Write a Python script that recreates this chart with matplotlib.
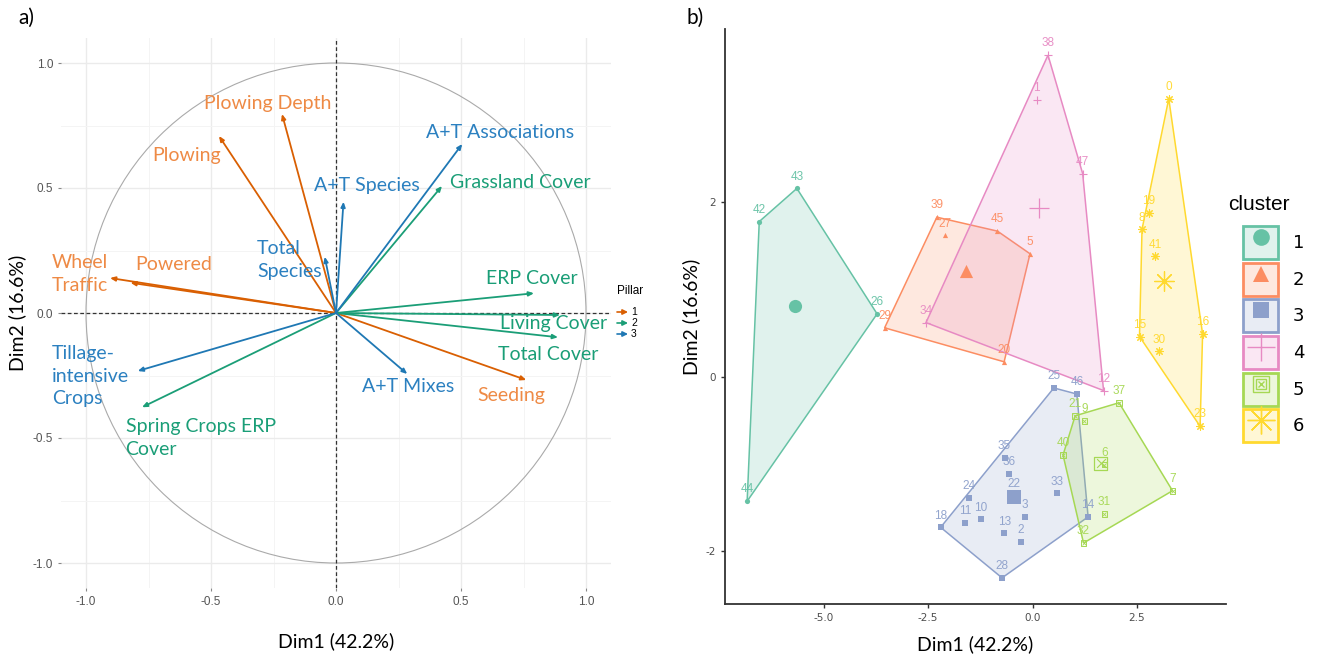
import matplotlib.pyplot as plt
import numpy as np
from matplotlib.patches import Circle, Polygon, Patch
from matplotlib.lines import Line2D
from matplotlib.legend_handler import HandlerTuple
from matplotlib.colors import to_rgba

plt.rcParams['axes.unicode_minus'] = False

# ---------------- a) variable correlation circle ----------------
var_names = ["Plowing Depth", "Plowing", "Wheel\nTraffic", "Powered", "Seeding",
             "ERP Cover", "Living Cover", "Total Cover", "Grassland Cover", "Spring Crops ERP\nCover",
             "A+T Associations", "A+T Species", "Total\nSpecies", "A+T Mixes", "Tillage-\nintensive\nCrops"]
var_pillar = [1, 1, 1, 1, 1, 2, 2, 2, 2, 2, 3, 3, 3, 3, 3]
var_dim1 = [-0.216, -0.468, -0.904, -0.822, 0.761,
            0.792, 0.896, 0.888, 0.424, -0.776,
            0.505, 0.030, -0.045, 0.285, -0.793]
var_dim2 = [0.796, 0.708, 0.140, 0.121, -0.268,
            0.079, -0.008, -0.097, 0.508, -0.377,
            0.676, 0.445, 0.225, -0.244, -0.232]

# ---------------- b) individuals / clusters ----------------
ind_id = [43, 42, 26, 44,
          39, 27, 45, 5, 29, 20,
          25, 46, 35, 36, 24, 33, 22, 3, 11, 10, 18, 13, 2, 14, 28,
          38, 1, 47, 34, 12,
          37, 21, 9, 40, 6, 7, 31, 32,
          0, 19, 8, 41, 15, 16, 30, 23]
ind_cluster = [1, 1, 1, 1,
               2, 2, 2, 2, 2, 2,
               3, 3, 3, 3, 3, 3, 3, 3, 3, 3, 3, 3, 3, 3, 3,
               4, 4, 4, 4, 4,
               5, 5, 5, 5, 5, 5, 5, 5,
               6, 6, 6, 6, 6, 6, 6, 6]
ind_dim1 = [-5.64, -6.54, -3.72, -6.83,
            -2.29, -2.10, -0.84, -0.06, -3.54, -0.68,
            0.51, 1.06, -0.67, -0.57, -1.51, 0.58, -0.44, -0.18, -1.62, -1.23, -2.20, -0.68, -0.28, 1.33, -0.73,
            0.37, 0.10, 1.20, -2.55, 1.70,
            2.07, 1.02, 1.24, 0.73, 1.72, 3.35, 1.72, 1.22,
            3.26, 2.78, 2.62, 2.94, 2.56, 4.07, 3.02, 4.01]
ind_dim2 = [2.16, 1.78, 0.72, -1.43,
            1.83, 1.62, 1.67, 1.41, 0.56, 0.17,
            -0.13, -0.20, -0.93, -1.12, -1.39, -1.34, -1.37, -1.61, -1.68, -1.64, -1.73, -1.80, -1.90, -1.61, -2.31,
            3.69, 3.18, 2.33, 0.62, -0.16,
            -0.30, -0.45, -0.51, -0.90, -1.01, -1.31, -1.58, -1.91,
            3.19, 1.88, 1.69, 1.38, 0.46, 0.49, 0.29, -0.57]

pillar_arrow = {1: '#D95F02', 2: '#1B9E77', 3: '#1F78B4'}
pillar_text = {1: '#EE8A45', 2: '#1A9E77', 3: '#2B80C0'}
cl_colors = {1: '#66C2A5', 2: '#FC8D62', 3: '#8DA0CB', 4: '#E78AC3', 5: '#A6D854', 6: '#FFD92F'}

# repel label placement: left edge, vertical centre
label_pos = {"Plowing Depth": (-0.528, 0.84), "Plowing": (-0.736, 0.632), "Wheel\nTraffic": (-1.136, 0.156),
             "Powered": (-0.804, 0.192), "Seeding": (0.564, -0.332), "ERP Cover": (0.60, 0.14),
             "Living Cover": (0.656, -0.04), "Total Cover": (0.648, -0.168), "Grassland Cover": (0.456, 0.524),
             "Spring Crops ERP\nCover": (-0.842, -0.50), "A+T Associations": (0.36, 0.72),
             "A+T Species": (-0.088, 0.508), "Total\nSpecies": (-0.316, 0.212), "A+T Mixes": (0.104, -0.292),
             "Tillage-\nintensive\nCrops": (-1.136, -0.252)}

fig = plt.figure(figsize=(13.2, 6.56), dpi=100)

ax = fig.add_axes([61 / 1320, 1 - 588 / 656, 550 / 1320, 550 / 656])
ax.set_xlim(-1.1, 1.1)
ax.set_ylim(-1.1, 1.1)
ax.set_xticks([-1.0, -0.5, 0.0, 0.5, 1.0])
ax.set_yticks([-1.0, -0.5, 0.0, 0.5, 1.0])
ax.set_xticks([-0.75, -0.25, 0.25, 0.75], minor=True)
ax.set_yticks([-0.75, -0.25, 0.25, 0.75], minor=True)
ax.xaxis.set_major_formatter(plt.FormatStrFormatter('%.1f'))
ax.yaxis.set_major_formatter(plt.FormatStrFormatter('%.1f'))
ax.grid(True, which='major', color='#EBEBEB', lw=1.0)
ax.grid(True, which='minor', color='#F4F4F4', lw=0.7)
ax.set_axisbelow(True)
for s in ax.spines.values():
    s.set_visible(False)
ax.tick_params(which='major', length=2, color='#888888', labelsize=8.5, labelcolor='#555555')
ax.tick_params(which='minor', length=0)
for lab in ax.get_xticklabels() + ax.get_yticklabels():
    lab.set_family('Liberation Sans')

ax.add_patch(Circle((0, 0), 1, fill=False, ec='#AAAAAA', lw=0.8))
ax.axhline(0, color='#333333', ls=(0, (3, 2)), lw=0.9)
ax.axvline(0, color='#333333', ls=(0, (3, 2)), lw=0.9)

for name, p, x, y in zip(var_names, var_pillar, var_dim1, var_dim2):
    ax.annotate('', xy=(x, y), xytext=(0, 0),
                arrowprops=dict(arrowstyle='-|>,head_length=0.3,head_width=0.13',
                                color=pillar_arrow[p], lw=1.3, shrinkA=0, shrinkB=0))
    lx, ly = label_pos[name]
    ax.text(lx, ly, name, color=pillar_text[p], fontsize=14, family='Lato',
            ha='left', va='center', linespacing=1.4)

ax.set_xlabel('Dim1 (42.2%)', fontsize=14, family='Lato', labelpad=18)
ax.set_ylabel('Dim2 (16.6%)', fontsize=14, family='Lato', labelpad=5)

# Pillar legend
fig.text(617 / 1320, 1 - 291 / 656, 'Pillar', fontsize=8.5, family='Liberation Sans', va='center')
for i, p in enumerate([1, 2, 3]):
    yy = 1 - (312 + i * 11) / 656
    fig.add_artist(plt.Annotation('', xy=(628 / 1320, yy), xytext=(617 / 1320, yy),
                                  xycoords='figure fraction',
                                  arrowprops=dict(arrowstyle='-|>,head_length=0.3,head_width=0.15',
                                                  color=pillar_arrow[p], lw=1.2, shrinkA=0, shrinkB=0)))
    fig.text(631 / 1320, yy, str(p), fontsize=7.5, family='Liberation Sans', va='center')

fig.text(18 / 1320, 1 - 18 / 656, 'a)', fontsize=15, family='Lato', va='center')
fig.text(686 / 1320, 1 - 18 / 656, 'b)', fontsize=15, family='Lato', va='center')

# ---------------- b) ----------------
bx = fig.add_axes([725 / 1320, 1 - 604 / 656, 501 / 1320, 575 / 656])
bx.set_xlim(-7.36, 4.63)
bx.set_ylim(-2.61, 3.99)
bx.set_xticks([-5.0, -2.5, 0.0, 2.5])
bx.set_yticks([-2, 0, 2])
bx.xaxis.set_major_formatter(plt.FormatStrFormatter('%.1f'))
bx.spines['top'].set_visible(False)
bx.spines['right'].set_visible(False)
for s in ['left', 'bottom']:
    bx.spines[s].set_linewidth(1.3)
    bx.spines[s].set_color('#333333')
bx.tick_params(length=3, width=1, color='#333333', labelsize=7.5, labelcolor='#4D4D4D')
bx.set_xlabel('Dim1 (42.2%)', fontsize=14, family='Lato', labelpad=9)
bx.set_ylabel('Dim2 (16.6%)', fontsize=14, family='Lato', labelpad=4)


def convex_hull(pts):
    pts = sorted(set(pts))
    if len(pts) < 3:
        return pts

    def cross(o, a, b):
        return (a[0] - o[0]) * (b[1] - o[1]) - (a[1] - o[1]) * (b[0] - o[0])
    lower, upper = [], []
    for p in pts:
        while len(lower) >= 2 and cross(lower[-2], lower[-1], p) <= 0:
            lower.pop()
        lower.append(p)
    for p in reversed(pts):
        while len(upper) >= 2 and cross(upper[-2], upper[-1], p) <= 0:
            upper.pop()
        upper.append(p)
    return lower[:-1] + upper[:-1]


markers = {1: 'o', 2: '^', 3: 's', 4: '+', 5: 's', 6: (8, 2, 0)}
ids = np.array(ind_id)
cl = np.array(ind_cluster)
xs = np.array(ind_dim1)
ys = np.array(ind_dim2)

legend_handles = []
for k in range(1, 7):
    c = cl_colors[k]
    m = cl == k
    pts = list(zip(xs[m], ys[m]))
    hull = convex_hull(pts)
    bx.add_patch(Polygon(hull, closed=True, fc=to_rgba(c, 0.2), ec=c, lw=1.1, zorder=1))
    cx, cy = xs[m].mean(), ys[m].mean()
    if k == 5:
        bx.scatter(xs[m], ys[m], marker='s', s=16, facecolors='none', edgecolors=c, lw=0.7, zorder=3)
        bx.scatter(xs[m], ys[m], marker='x', s=8, color=c, lw=0.6, zorder=3)
        bx.scatter([cx], [cy], marker='s', s=90, facecolors='none', edgecolors=c, lw=0.9, zorder=3)
        bx.scatter([cx], [cy], marker='x', s=40, color=c, lw=0.8, zorder=3)
    elif k in (4, 6):
        bx.scatter(xs[m], ys[m], marker=markers[k], s=30, color=c, lw=0.8, zorder=3)
        bx.scatter([cx], [cy], marker=markers[k], s=200, color=c, lw=0.9, zorder=3)
    else:
        bx.scatter(xs[m], ys[m], marker=markers[k], s=14, color=c, lw=0, zorder=3)
        bx.scatter([cx], [cy], marker=markers[k], s=90, color=c, lw=0, zorder=3)
    for i, x, y in zip(ids[m], xs[m], ys[m]):
        bx.annotate(str(i), (x, y), xytext=(0, 8.5), textcoords='offset points', ha='center', va='center',
                    fontsize=8.5, color=c, alpha=0.95, family='Liberation Sans', zorder=4)

    box = Patch(fc=to_rgba(c, 0.2), ec=c, lw=2)
    if k == 5:
        h = (box, Line2D([], [], ls='none', marker='s', ms=11, mfc='none', mec=c, mew=1),
             Line2D([], [], ls='none', marker='s', ms=7, mfc='none', mec=c, mew=1),
             Line2D([], [], ls='none', marker='x', ms=5, color=c, mew=1))
    elif k in (4, 6):
        h = (box, Line2D([], [], ls='none', marker=markers[k], ms=20, color=c, mew=1))
    else:
        h = (box, Line2D([], [], ls='none', marker=markers[k], ms=12, color=c, mew=0))
    legend_handles.append(h)

fig.text(1228 / 1320, 1 - 205 / 656, 'cluster', fontsize=15, family='Liberation Sans', va='center')
leg = fig.legend(legend_handles, [str(k) for k in range(1, 7)],
                 handler_map={tuple: HandlerTuple(ndivide=1, pad=0)},
                 loc='upper left', bbox_to_anchor=(1243 / 1320, 1 - 226 / 656), frameon=False,
                 fontsize=13, handlelength=1.95, handleheight=2.44,
                 labelspacing=0.2, handletextpad=0.8, borderaxespad=0, borderpad=0)

fig.savefig('out.png', dpi=100)
